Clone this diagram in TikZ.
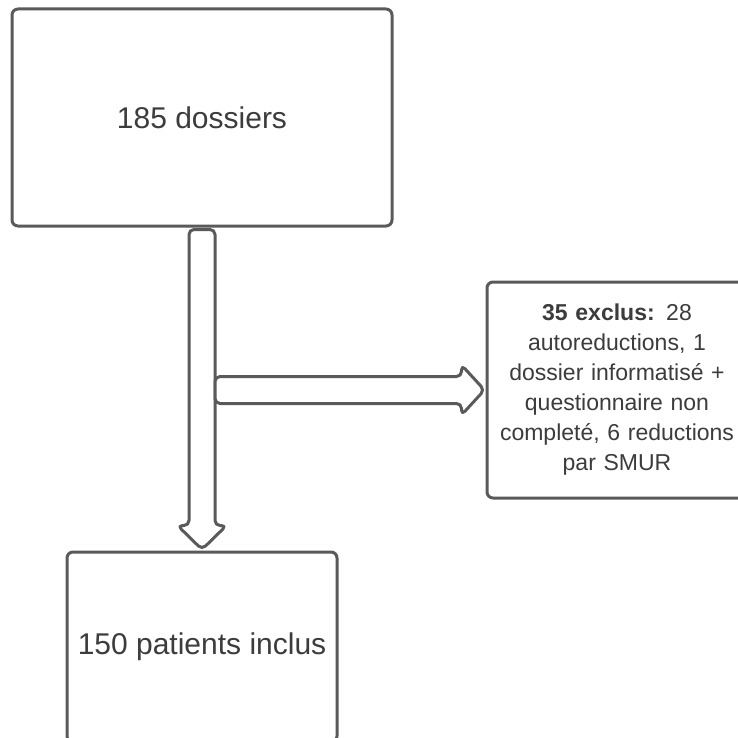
\documentclass[tikz,border=0pt]{standalone}
\usepackage{fontspec}
\setmainfont{Liberation Sans}
\usetikzlibrary{calc}
\definecolor{trait}{HTML}{5A5A5A}
\definecolor{encre}{HTML}{3C3C3C}

\begin{document}
\begin{tikzpicture}
    [
      x=1pt,
      y=-1pt,
      bloc/.style=
        {
          rectangle,
          draw=trait,
          line width=3pt,
          rounded corners=6pt,
          fill=white,
          text=encre,
          align=center,
          inner sep=0pt,
        },
      fleche/.style=
        {
          draw=trait,
          line width=3pt,
          fill=white,
          rounded corners=5pt,
          line join=round,
        }
    ]
    \useasboundingbox (0,0) rectangle (737,738);

    \node (dossiers) [bloc, minimum width=380pt, minimum height=217pt,
      font=\fontsize{30}{36}\selectfont] at (202,117.5) {185 dossiers};
    \node (exclus) [bloc, minimum width=260pt, minimum height=216pt, text width=254pt,
      font=\fontsize{23}{30}\selectfont] at (617,390)
      {\textbf{35 exclus:} 28\\autoreductions, 1\\dossier informatisé +\\questionnaire non\\completé, 6 reductions\\par SMUR};
    \node (inclus) [bloc, minimum width=270pt, minimum height=190pt,
      font=\fontsize{30}{36}\selectfont] at (202,647) {150 patients inclus};

    \coordinate (embranchement) at (dossiers.south |- exclus.west);

    % fleche verticale
    \draw [fleche] ($(dossiers.south)+(-13,2)$) -- ($(inclus.north)+(-13,-25)$)
      -- ($(inclus.north)+(-24.5,-25)$) -- ($(inclus.north)+(0,-1)$)
      -- ($(inclus.north)+(24.5,-25)$) -- ($(inclus.north)+(13,-25)$)
      -- ($(dossiers.south)+(13,2)$) -- cycle;
    % fleche vers les exclus
    \draw [fleche] ($(embranchement)+(13,-13.5)$) -- ($(exclus.west)+(-24,-13.5)$)
      -- ($(exclus.west)+(-24,-25)$) -- ($(exclus.west)+(-1,0)$)
      -- ($(exclus.west)+(-24,25)$) -- ($(exclus.west)+(-24,13.5)$)
      -- ($(embranchement)+(13,13.5)$) -- cycle;
\end{tikzpicture}
\end{document}
